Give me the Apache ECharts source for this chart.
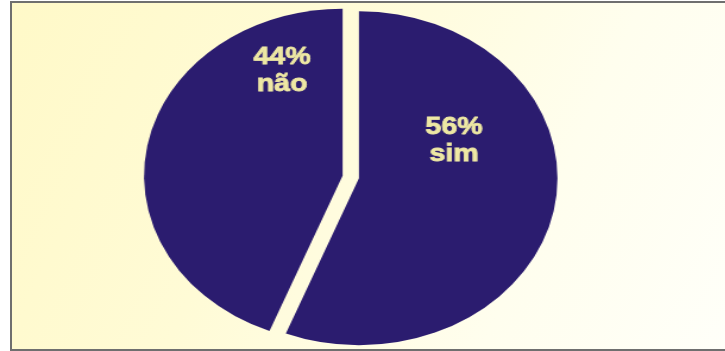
<!DOCTYPE html>
<html>
<head>
<meta charset="utf-8">
<script src="https://cdn.jsdelivr.net/npm/echarts@6/dist/echarts.min.js"></script>
<style>
  html, body { margin: 0; padding: 0; width: 725px; height: 351px; overflow: hidden; background: #ffffff; }
  #frame {
    position: absolute; left: 10px; top: 1px; width: 740px; height: 346px;
    border: 2px solid #6f6f6f;
    background: linear-gradient(115deg, #fff9c8 0%, #fffbd6 35%, #fffeee 70%, #fffffa 100%);
  }
  /* the pie is drawn round and stretched sideways into an ellipse */
  #chart {
    position: absolute; left: 0; top: 0; width: 610px; height: 351px;
    transform: scaleX(1.189); transform-origin: 0 0;
  }
</style>
</head>
<body>
<div id="frame"></div>
<div id="chart"></div>
<script>
// answers and their shares (%)
const categories = ['sim', 'não'];
const shares = [56, 44];

// label anchor per slice, as [fraction of radius right of centre, fraction of radius below centre]
const labelAnchors = [[0.52, -0.216], [-0.346, -0.635]];

const chart = echarts.init(document.getElementById('chart'), null, { renderer: 'canvas' });

const centerX = 295, centerY = 177, radius = 167, explode = 7;
const sliceColor = '#2b1c6f';
const labelColor = '#eee8a4';
const total = shares.reduce((a, b) => a + b, 0);

// each slice gets its own series, pushed out from the centre along its mid angle
let startDeg = 90;
const series = categories.map((name, k) => {
  const sweep = shares[k] / total * 360;
  const mid = (startDeg - sweep / 2) * Math.PI / 180;
  startDeg -= sweep;
  const cx = centerX + explode * Math.cos(mid);
  const cy = centerY - explode * Math.sin(mid);
  return {
    type: 'pie',
    center: [cx, cy],
    radius: radius,
    startAngle: 90,
    clockwise: true,
    avoidLabelOverlap: false,
    silent: true,
    label: {
      show: true,
      position: 'inside',
      formatter: '{c}%\n{b}',
      color: labelColor,
      textBorderColor: labelColor,
      textBorderWidth: 0.8,
      fontFamily: '"Liberation Sans", Arial, sans-serif',
      fontWeight: 'bold',
      fontSize: 24,
      lineHeight: 27,
      align: 'center',
      verticalAlign: 'middle'
    },
    labelLine: { show: false },
    labelLayout: function (p) {
      if (p.dataIndex !== k) return {};
      const a = labelAnchors[k];
      return { x: centerX + a[0] * radius, y: centerY + a[1] * radius };
    },
    data: categories.map((n, i) => ({
      name: n,
      value: shares[i],
      itemStyle: { color: i === k ? sliceColor : 'rgba(0,0,0,0)' },
      label: { show: i === k }
    }))
  };
});

chart.setOption({
  backgroundColor: 'transparent',
  animation: false,
  series: series
});
</script>
</body>
</html>
